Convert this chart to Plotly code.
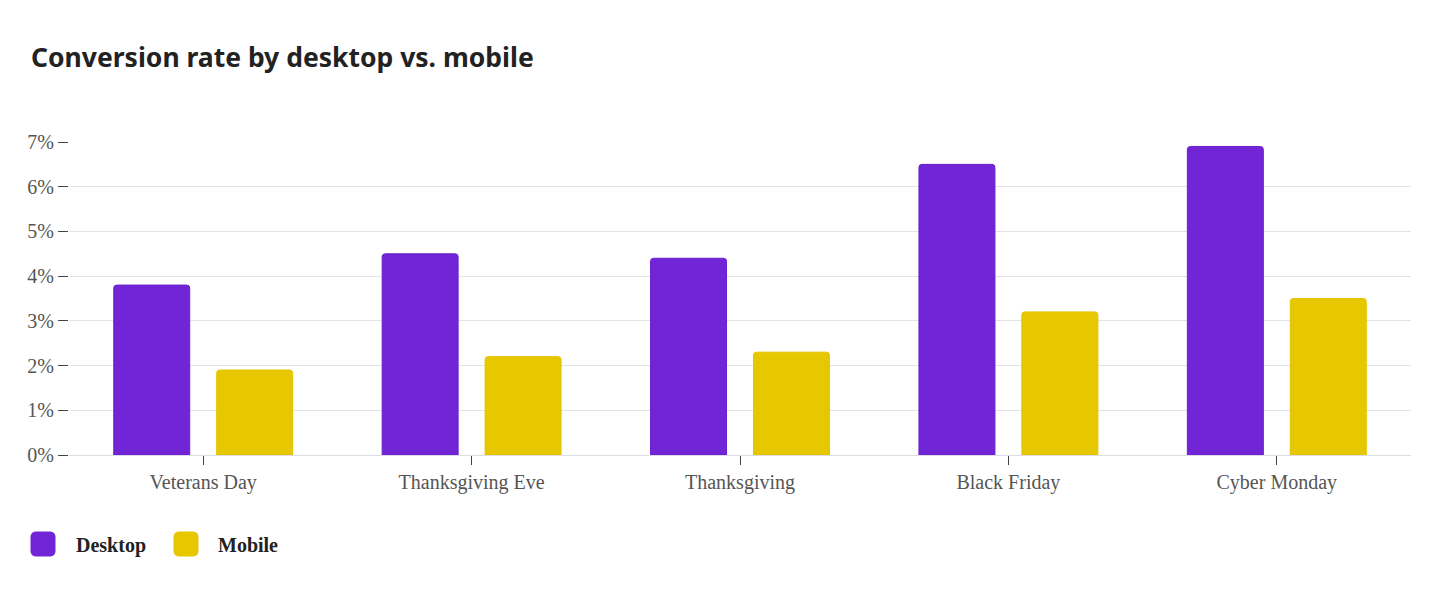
import plotly.graph_objects as go

categories = ["Veterans Day", "Thanksgiving Eve", "Thanksgiving", "Black Friday", "Cyber Monday"]
desktop = [3.8, 4.5, 4.4, 6.5, 6.9]
mobile = [1.9, 2.2, 2.3, 3.2, 3.5]
y_ticks = [0, 1, 2, 3, 4, 5, 6, 7]
y_tick_labels = [f"{v}%" for v in y_ticks]

OFF = 8  # page body margin
W, H = 1440, 596
# target page positions: plot left 69, right 1411, top 142, bottom 455
ML = 69 - OFF
MR = (W + OFF) - 1411
MT = 142 - OFF
MB = (H + OFF) - 455
PW = W - ML - MR
PH = H - MT - MB

PURPLE = "#7225D6"
YELLOW = "#E6C700"

def px(x):
    return (x - OFF - ML) / PW

def py(y):
    return (H - MB - (y - OFF)) / PH

fig = go.Figure()
fig.add_trace(go.Bar(name="Desktop", x=categories, y=desktop,
                     marker=dict(color=PURPLE, line=dict(color="#6A1FCC", width=1))))
fig.add_trace(go.Bar(name="Mobile", x=categories, y=mobile,
                     marker=dict(color=YELLOW, line=dict(color="#E3C400", width=1))))

serif = "Liberation Serif, Times New Roman, serif"

fig.update_layout(
    width=W, height=H,
    margin=dict(l=ML, r=MR, t=MT, b=MB),
    paper_bgcolor="white", plot_bgcolor="white",
    barmode="group", bargap=0.233, bargroupgap=0.262,
    barcornerradius=3,
    showlegend=False,
    title=dict(text="Conversion rate by desktop vs. mobile",
               font=dict(family="Noto Sans, DejaVu Sans, sans-serif", size=26.5, color="#222222", weight="bold"),
               x=(31 - OFF) / W, xanchor="left", xref="container",
               y=1 - (58 - OFF) / H, yanchor="middle", yref="container"),
    xaxis=dict(
        showgrid=False, showline=True, linecolor="#dcdce4", linewidth=1,
        ticks="outside", ticklen=9, tickcolor="#444444", tickwidth=1,
        tickfont=dict(family=serif, size=20, color="#555555"),
        fixedrange=True,
    ),
    yaxis=dict(
        range=[0, 7.0],
        tickvals=y_ticks, ticktext=y_tick_labels,
        showgrid=True, gridcolor="#e2e2ea", gridwidth=1,
        zeroline=True, zerolinecolor="#dcdce4", zerolinewidth=1,
        showline=False,
        ticks="outside", ticklen=10, tickcolor="#444444", tickwidth=1,
        ticklabelstandoff=0,
        tickfont=dict(family=serif, size=20, color="#555555"),
        fixedrange=True,
    ),
)

# Manual legend (rounded squares + bold serif labels)
S, R = 24, 5
rounded = (f"M {R},0 L {S-R},0 Q {S},0 {S},{R} L {S},{S-R} Q {S},{S} {S-R},{S} "
           f"L {R},{S} Q 0,{S} 0,{S-R} L 0,{R} Q 0,0 {R},0 Z")
legend_items = [("Desktop", PURPLE, 31, 74), ("Mobile", YELLOW, 174, 216)]
for name, color, sx, tx in legend_items:
    fig.add_shape(type="path", xref="paper", yref="paper",
                  xsizemode="pixel", ysizemode="pixel",
                  xanchor=px(sx), yanchor=py(556), path=rounded,
                  fillcolor=color, line=dict(color=color, width=1), layer="above")
    fig.add_annotation(text=f"<b>{name}</b>", xref="paper", yref="paper",
                       x=px(tx), y=py(545), xanchor="left", yanchor="middle",
                       showarrow=False, font=dict(family=serif, size=20, color="#222222"))

fig.write_html("out.html")
